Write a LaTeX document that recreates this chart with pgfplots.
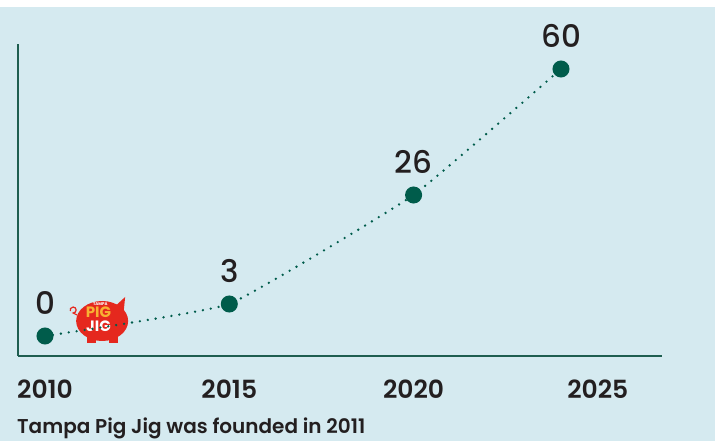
\documentclass[border=0pt]{standalone}
\usepackage{pgfplots}
\pgfplotsset{compat=1.18}
\usepackage{fontspec}
\setmainfont{Poppins}
\newfontfamily\pmed{Poppins Medium}
\newfontfamily\psemi{Poppins SemiBold}
\definecolor{bg}{HTML}{D5EAF0}
\definecolor{dg}{HTML}{005C4B}
\definecolor{axc}{HTML}{1E5E50}
\definecolor{txt}{HTML}{231F20}
\definecolor{pigred}{HTML}{E5281E}
\definecolor{pigyel}{HTML}{F8B133}
\begin{document}
\begin{tikzpicture}[x=1pt,y=1pt]
\fill[white] (0,0) rectangle (715,441);
\fill[bg] (0,0) rectangle (715,434);
\path[use as bounding box] (0,0) rectangle (715,441);
\begin{axis}[
  at={(18pt,85pt)}, anchor=south west,
  scale only axis, width=644pt, height=312pt,
  xmin=2009.267, xmax=2026.74, ymin=0, ymax=312,
  axis x line*=bottom, axis y line*=left,
  axis line style={draw=axc, line width=1.6pt, -},
  xtick={2010,2015,2020,2025},
  xticklabels={2010,2015,2020,2025},
  ytick=\empty, major tick length=0pt,
  xticklabel style={font=\psemi\fontsize{25}{25}\selectfont, text=txt, anchor=base, yshift=-43pt},
  clip=false,
  nodes near coords,
  point meta=explicit symbolic,
]
% pig logo (decoration)
\fill[pigred] (axis cs:2011.55,35) ellipse [x radius=26pt, y radius=20pt];
\fill[pigred] (axis cs:2011.55,35) ++(10pt,12pt) -- ++(13pt,12pt) -- ++(-2pt,-20pt) -- cycle;
\fill[pigred] (axis cs:2011.55,35) ++(-15pt,-14pt) rectangle ++(9pt,-8pt);
\fill[pigred] (axis cs:2011.55,35) ++(7pt,-14pt) rectangle ++(9pt,-8pt);
\draw[pigred, line width=1.2pt] (axis cs:2011.55,35) ++(-25pt,6pt) -- ++(-4pt,2pt) arc[start angle=-90, end angle=200, radius=3pt];
\node[font=\bfseries\fontsize{4}{4}\selectfont, text=white] at (axis cs:2011.5,52) {TAMPA};
\node[font=\bfseries\fontsize{15}{15}\selectfont, text=pigyel, inner sep=0pt] at (axis cs:2011.45,44) {PIG};
\node[font=\bfseries\fontsize{15}{15}\selectfont, text=white, inner sep=0pt] at (axis cs:2011.45,30) {JIG};
\addplot[dg, line width=2.6pt, dash pattern=on 0pt off 8pt, line cap=round,
  smooth, tension=0.2,
  mark=*, mark size=7.2pt, mark options={solid, fill=dg, draw=none},
  every node near coord/.append style={font=\pmed\fontsize{31}{31}\selectfont, text=txt, anchor=base, yshift=21pt, inner sep=0pt}]
  table[meta=label] {
x y label
2010 20 0
2015 52 3
2020 161 26
2024 287 60
};
\end{axis}
\node[anchor=base west, inner sep=0pt, font=\psemi\fontsize{20}{20}\selectfont, text=txt] at (17,7) {Tampa Pig Jig was founded in 2011};
\end{tikzpicture}
\end{document}
